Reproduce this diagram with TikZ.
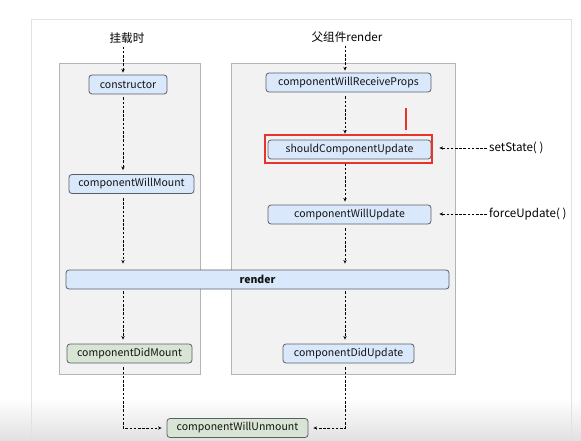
\documentclass[tikz,border=0pt]{standalone}
\usepackage{fontspec}
\setmainfont{Noto Sans CJK SC}
\usetikzlibrary{arrows.meta}
\definecolor{boxblue}{HTML}{DAE8FC}
\definecolor{boxgreen}{HTML}{D8E4D4}
\definecolor{panelfill}{HTML}{F2F2F2}
\definecolor{panelline}{HTML}{B4B4B4}
\definecolor{frameline}{HTML}{E2E2E2}
\definecolor{boxline}{HTML}{5A5F66}
\definecolor{marker}{HTML}{E8322B}
\begin{document}
\begin{tikzpicture}[x=1pt,y=-1pt,
  font=\fontsize{10.5}{12}\selectfont,
  stage/.style={draw=boxline, line width=0.8pt, rounded corners=3pt, fill=boxblue,
    minimum height=19pt, inner sep=0pt, text=black!92},
  done/.style={stage, fill=boxgreen},
  flow/.style={line width=0.8pt, dash pattern=on 2.6pt off 1.6pt,
    -{Stealth[length=3.6pt,width=3.2pt]}},
  panel/.style={draw=panelline, line width=0.6pt, fill=panelfill},
  caption/.style={inner sep=1pt, text=black, font=\fontsize{11.6}{13}\selectfont}]
  \useasboundingbox (0,0) rectangle (581,441);
  \fill[white] (0,0) rectangle (581,441);
  % soft band along the bottom edge
  \shade[top color=white, bottom color=black!12] (0,398) rectangle (581,441);
  % outer frame
  \draw[frameline, line width=0.8pt] (31,441) -- (31,19) -- (571,19) -- (571,441);
  % the two lifecycle panels
  \draw[panel] (59,63) rectangle (200,374);
  \draw[panel] (231,63) rectangle (455,374);

  % column guides for the vertical connectors
  \coordinate (lcol) at (123,0);
  \coordinate (rcol) at (345,0);
  \coordinate (bend) at (0,428);

  % entry captions
  \node[caption] (mount) at (127,38) {挂载时};
  \node[caption] (parent) at (347,37) {父组件render};

  % mounting stages
  \node[stage, minimum width=78pt] (ctor) at (128,84.5) {constructor};
  \node[stage, minimum width=125pt] (willmount) at (131.5,184) {componentWillMount};
  \node[done, minimum width=125pt] (didmount) at (129.5,353.5) {componentDidMount};

  % updating stages
  \node[stage, minimum width=165pt] (props) at (348.5,82.5) {componentWillReceiveProps};
  \node[stage, minimum width=163pt] (should) at (349.5,149.5) {shouldComponentUpdate};
  \node[stage, minimum width=163pt] (willupdate) at (349.5,214.5) {componentWillUpdate};
  \node[stage, minimum width=131pt] (didupdate) at (348.5,353.5) {componentDidUpdate};

  % shared render stage
  \node[stage, minimum width=383pt] (render) at (257.5,279.5) {\bfseries render};

  % unmount
  \node[done, minimum width=141pt] (unmount) at (237.5,428) {componentWillUnmount};

  % external triggers
  \node[caption, anchor=west] (setstate) at (488,148) {setState( )};
  \node[caption, anchor=west] (force) at (488,214) {forceUpdate( )};

  % mounting flow
  \draw[flow, shorten <=2pt, shorten >=2pt] (mount.south -| lcol) -- (ctor.north -| lcol);
  \draw[flow, shorten <=3pt, shorten >=4pt] (ctor.south -| lcol) -- (willmount.north -| lcol);
  \draw[flow, shorten <=4pt, shorten >=6pt] (willmount.south -| lcol) -- (render.north -| lcol);
  \draw[flow, shorten <=2pt, shorten >=4pt] (render.south -| lcol) -- (didmount.north -| lcol);
  \draw[flow, shorten <=4pt, shorten >=5pt] (didmount.south -| lcol) |- (unmount.west |- bend);

  % updating flow
  \draw[flow, shorten <=2pt, shorten >=2pt] (parent.south -| rcol) -- (props.north -| rcol);
  \draw[flow, shorten <=4pt, shorten >=6pt] (props.south -| rcol) -- (should.north -| rcol);
  \draw[flow, shorten <=4pt, shorten >=3pt] (should.south -| rcol) -- (willupdate.north -| rcol);
  \draw[flow, shorten <=4pt, shorten >=6pt] (willupdate.south -| rcol) -- (render.north -| rcol);
  \draw[flow, shorten <=2pt, shorten >=4pt] (render.south -| rcol) -- (didupdate.north -| rcol);
  \draw[flow, shorten <=4pt, shorten >=5pt] (didupdate.south -| rcol) |- (unmount.east |- bend);

  % triggers into the update path
  \draw[flow, shorten <=1pt, shorten >=8pt] (setstate.west) -- (should.east |- setstate.west);
  \draw[flow, shorten <=1pt, shorten >=8pt] (force.west) -- (willupdate.east |- force.west);

  % highlight around shouldComponentUpdate
  \draw[marker, line width=1.1pt] (265,135) rectangle (432,163);
  \draw[marker, line width=2pt] (406,108) -- (406,130);
\end{tikzpicture}
\end{document}
